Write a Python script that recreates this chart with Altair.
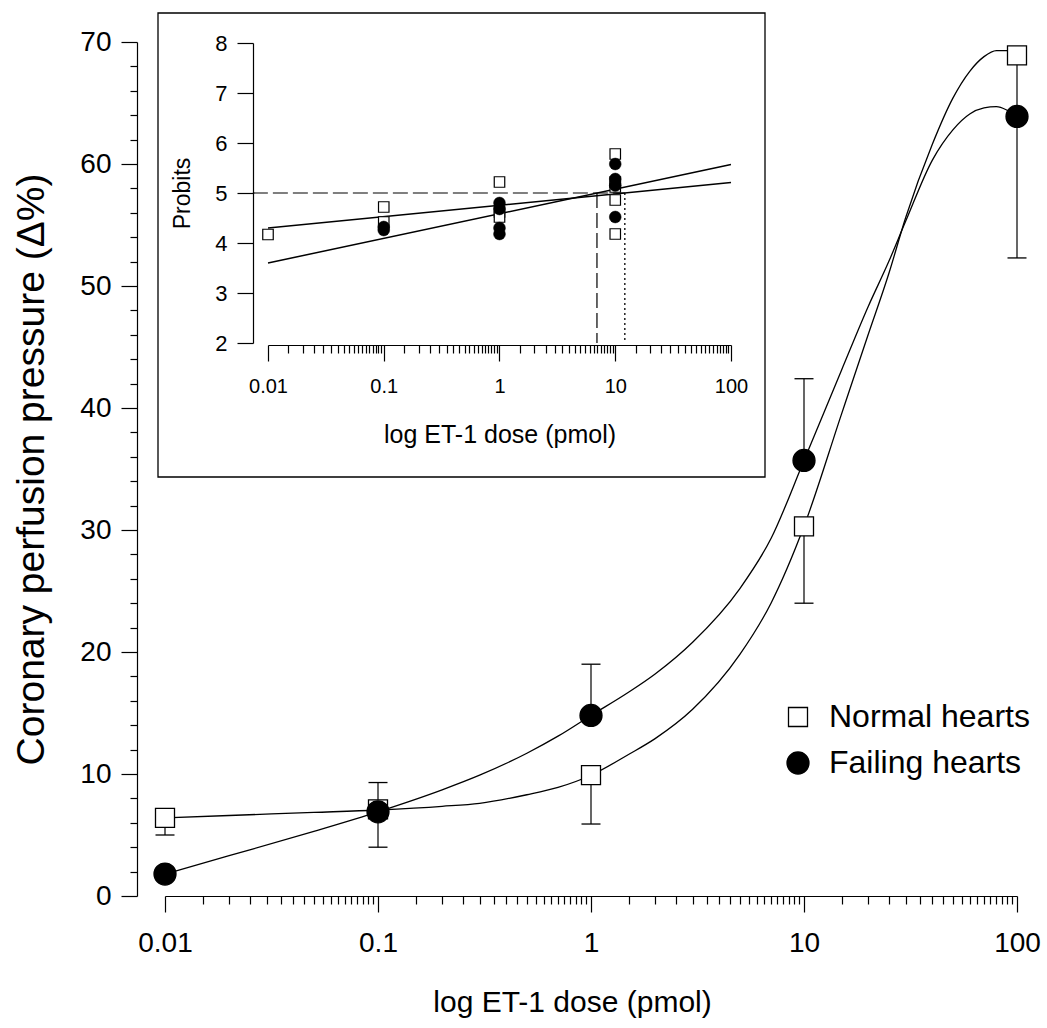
import altair as alt
import pandas as pd

FONT = "Liberation Sans"
groups = ["Normal hearts", "Failing hearts"]

# ---------------- main panel: means and error bars ----------------
doses = [0.01, 0.1, 1, 10, 100]
normal_mean = [6.4, 7.1, 9.9, 30.3, 68.9]
normal_err_lo = [5.0, 4.0, 5.9, 24.0, 64.0]
normal_err_hi = [6.4, 7.1, 9.9, 30.3, 69.1]
failing_mean = [1.8, 6.9, 14.8, 35.7, 63.9]
failing_err_lo = [1.8, 6.9, 14.8, 35.7, 52.3]
failing_err_hi = [1.8, 9.3, 19.0, 42.4, 63.9]

# fitted curves
curve_dose = [0.01, 0.02, 0.05, 0.1, 0.2, 0.3, 0.5, 0.7, 1, 1.5, 2, 3, 5, 7,
              10, 15, 20, 25, 30, 40, 50, 60, 70, 80, 90, 100]
normal_curve = [6.4, 6.6, 6.85, 7.05, 7.35, 7.6, 8.3, 8.9, 9.9, 11.6, 12.9, 15.3,
                19.8, 24.0, 30.3, 39.5, 46.0, 51.0, 55.6, 61.6, 65.4, 67.6, 68.8,
                69.3, 69.3, 68.9]
failing_curve = [1.8, 3.3, 5.3, 6.9, 8.7, 9.9, 11.7, 13.1, 14.8, 16.7, 18.2, 20.8,
                 25.2, 29.3, 35.7, 43.1, 48.3, 52.0, 55.3, 60.3, 62.8, 64.1, 64.6,
                 64.7, 64.4, 63.9]

# ---------------- inset: probit data ----------------
inset_normal_dose = [0.01, 0.1, 0.1, 1, 1, 1, 10, 10, 10, 10, 10]
inset_normal_probit = [4.17, 4.72, 4.42, 5.22, 4.62, 4.52, 5.78, 5.22, 5.12, 4.86, 4.18]
inset_failing_dose = [0.1, 0.1, 1, 1, 1, 1, 10, 10, 10, 10]
inset_failing_probit = [4.26, 4.32, 4.80, 4.68, 4.30, 4.18, 5.58, 5.28, 5.15, 4.52]

reg_dose = [0.01, 100]
reg_normal = [4.30, 5.21]
reg_failing = [3.60, 5.57]
ed50_failing = 6.95
ed50_normal = 12.1
probit_half = 5
probit_floor = 2
probit_ref_start = 0.0074  # dose at the inset's offset y axis

inset_y_ticks = [2, 3, 4, 5, 6, 7, 8]

# ---------------- tick values ----------------
x_major = [0.01, 0.1, 1, 10, 100]
minor_mult = [1.5 + 0.5 * i for i in range(17)]
x_minor = [round(m * 10 ** e, 6) for e in range(-2, 2) for m in minor_mult]
y_major = list(range(0, 71, 10))
y_minor = [v for v in range(0, 71, 2) if v % 10 != 0]

W, H = 852, 854

common_axis = dict(grid=False, domainColor="black", tickColor="black", labelColor="black",
                   titleColor="black", domainWidth=1.2, tickWidth=1.2, labelFont=FONT,
                   titleFont=FONT, titleFontWeight="normal", zindex=2, labelOverlap=False)
minor_axis = dict(grid=False, labels=False, domain=False, title=None, tickColor="black",
                  tickWidth=1.2, zindex=2)

main_x_axis = alt.Axis(values=x_major, format="~g", orient="bottom", tickSize=16,
                       labelFontSize=28, labelPadding=17, labelFlush=False,
                       title="log ET-1 dose (pmol)", titleFontSize=30, titlePadding=30,
                       titleX=407, **common_axis)
main_x_minor = alt.Axis(values=x_minor, orient="bottom", tickSize=8, **minor_axis)
main_y_axis = alt.Axis(values=y_major, orient="left", tickSize=16,
                       labelFontSize=28, labelPadding=10, offset=28,
                       title="Coronary perfusion pressure (\u0394%)", titleFontSize=39,
                       titlePadding=28, **common_axis)
main_y_minor = alt.Axis(values=y_minor, orient="left", tickSize=7, offset=28, **minor_axis)

xs_main = alt.Scale(type="log", domain=[0.01, 100])
ys_main = alt.Scale(domain=[0, 70])

curves_df = pd.DataFrame({
    "dose": curve_dose * 2,
    "value": normal_curve + failing_curve,
    "group": [groups[0]] * len(curve_dose) + [groups[1]] * len(curve_dose),
})
pts_df = pd.DataFrame({
    "dose": doses * 2,
    "value": normal_mean + failing_mean,
    "group": [groups[0]] * 5 + [groups[1]] * 5,
})
err_df = pd.DataFrame({
    "dose": doses * 2,
    "lo": normal_err_lo + failing_err_lo,
    "hi": normal_err_hi + failing_err_hi,
})
err_df = err_df[err_df["lo"] < err_df["hi"]].reset_index(drop=True)
cap_df = pd.DataFrame({
    "dose": list(err_df["dose"]) * 2,
    "cap": list(err_df["lo"]) + list(err_df["hi"]),
})

curves = alt.Chart(curves_df).mark_line(color="black", strokeWidth=1.3, interpolate="monotone").encode(
    x=alt.X("dose:Q", scale=xs_main, axis=main_x_axis),
    y=alt.Y("value:Q", scale=ys_main, axis=main_y_axis),
    detail="group:N",
)
err_rules = alt.Chart(err_df).mark_rule(color="black", strokeWidth=1.2).encode(
    x=alt.X("dose:Q", scale=xs_main, axis=main_x_minor),
    y=alt.Y("lo:Q", scale=ys_main, axis=main_y_minor),
    y2="hi:Q",
)
err_caps = alt.Chart(cap_df).mark_tick(color="black", orient="horizontal", size=19,
                                       thickness=1.3, opacity=1).encode(
    x=alt.X("dose:Q", scale=xs_main, axis=None),
    y=alt.Y("cap:Q", scale=ys_main, axis=None),
)
leg = alt.Legend(title=None, orient="none", legendX=617, legendY=659, direction="vertical",
                 labelFont=FONT, labelFontSize=32, labelColor="black", labelOffset=15,
                 labelLimit=0, rowPadding=14, padding=0, symbolStrokeWidth=1.3)
points = alt.Chart(pts_df).mark_point(filled=True, strokeWidth=1.3, opacity=1).encode(
    x=alt.X("dose:Q", scale=xs_main, axis=None),
    y=alt.Y("value:Q", scale=ys_main, axis=None),
    shape=alt.Shape("group:N", scale=alt.Scale(domain=groups, range=["square", "circle"]), legend=leg),
    fill=alt.Fill("group:N", scale=alt.Scale(domain=groups, range=["white", "black"]), legend=leg),
    stroke=alt.Stroke("group:N", scale=alt.Scale(domain=groups, range=["black", "black"]), legend=leg),
    size=alt.Size("group:N", scale=alt.Scale(domain=groups, range=[361, 484]), legend=leg),
)
main = alt.layer(curves, err_rules, err_caps, points).resolve_axis(x="independent", y="independent")

# ---------------- inset ----------------
xs_in = alt.Scale(type="log", domain=[0.01, 100], range=[103, 566])
ys_in = alt.Scale(domain=[2, 8], range=[301, 1])

inset_x_axis = alt.Axis(values=x_major, format="~g", orient="bottom", offset=-551, tickSize=16,
                        labelFontSize=20, labelPadding=15, labelFlush=False,
                        title="log ET-1 dose (pmol)", titleFontSize=25, titlePadding=26,
                        **common_axis)
inset_x_minor = alt.Axis(values=x_minor, orient="bottom", offset=-551, tickSize=8, **minor_axis)
inset_y_axis = alt.Axis(values=inset_y_ticks, orient="left", offset=-88, tickSize=16,
                        labelFontSize=22, labelPadding=10, title="Probits", titleFontSize=23,
                        titlePadding=20, **common_axis)

box = alt.Chart(pd.DataFrame({"k": [0]})).mark_rect(fill="white", stroke="black", strokeWidth=1.3).encode(
    x=alt.value(-7), x2=alt.value(600), y=alt.value(-29), y2=alt.value(435)
)
href_df = pd.DataFrame({"d1": [probit_ref_start], "d2": [ed50_normal], "p": [probit_half]})
href = alt.Chart(href_df).mark_rule(color="black", strokeWidth=1.2, strokeDash=[15, 5]).encode(
    x=alt.X("d1:Q", scale=xs_in, axis=None), x2="d2:Q",
    y=alt.Y("p:Q", scale=ys_in, axis=None),
)
vdash_df = pd.DataFrame({"d": [ed50_failing], "p1": [probit_half], "p2": [probit_floor]})
vdash = alt.Chart(vdash_df).mark_rule(color="black", strokeWidth=1.2, strokeDash=[15, 5]).encode(
    x=alt.X("d:Q", scale=xs_in, axis=None),
    y=alt.Y("p1:Q", scale=ys_in, axis=None), y2="p2:Q",
)
vdot_df = pd.DataFrame({"d": [ed50_normal], "p1": [probit_half], "p2": [probit_floor]})
vdot = alt.Chart(vdot_df).mark_rule(color="black", strokeWidth=1.3, strokeDash=[2, 3]).encode(
    x=alt.X("d:Q", scale=xs_in, axis=None),
    y=alt.Y("p1:Q", scale=ys_in, axis=None), y2="p2:Q",
)
reg_df = pd.DataFrame({
    "dose": reg_dose * 2,
    "probit": reg_normal + reg_failing,
    "group": [groups[0]] * 2 + [groups[1]] * 2,
})
reg = alt.Chart(reg_df).mark_line(color="black", strokeWidth=1.5).encode(
    x=alt.X("dose:Q", scale=xs_in, axis=inset_x_axis),
    y=alt.Y("probit:Q", scale=ys_in, axis=inset_y_axis),
    detail="group:N",
)
ins_sq = alt.Chart(pd.DataFrame({"dose": inset_normal_dose, "probit": inset_normal_probit})).mark_point(
    shape="square", filled=True, fill="white", stroke="black", strokeWidth=1.2, size=110, opacity=1
).encode(
    x=alt.X("dose:Q", scale=xs_in, axis=inset_x_minor),
    y=alt.Y("probit:Q", scale=ys_in, axis=None),
)
ins_ci = alt.Chart(pd.DataFrame({"dose": inset_failing_dose, "probit": inset_failing_probit})).mark_point(
    shape="circle", filled=True, fill="black", stroke="black", strokeWidth=0.5, size=140, opacity=1
).encode(
    x=alt.X("dose:Q", scale=xs_in, axis=None),
    y=alt.Y("probit:Q", scale=ys_in, axis=None),
)
inset = alt.layer(box, href, vdash, vdot, reg, ins_sq, ins_ci).resolve_axis(x="independent", y="independent")

chart = alt.layer(main, inset).resolve_scale(x="independent", y="independent").properties(
    width=W, height=H,
    padding={"left": 165, "top": 42, "right": 30, "bottom": 132},
    autosize=alt.AutoSizeParams(type="none"),
).configure(font=FONT).configure_view(stroke=None)

chart.save("out.html", embed_options={"renderer": "svg", "actions": False})
